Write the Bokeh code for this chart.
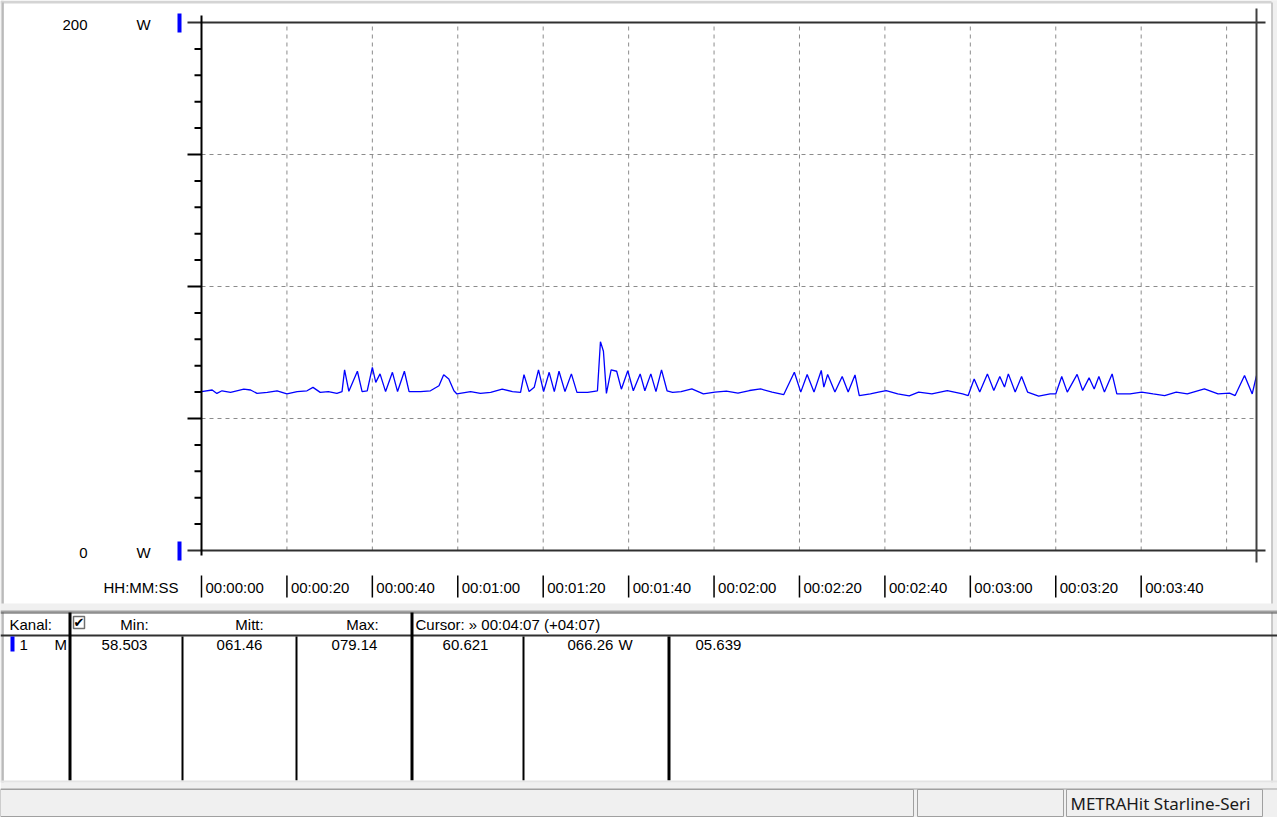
from bokeh.plotting import figure
from bokeh.models import Range1d, Label, BoxAnnotation, PolyAnnotation
from bokeh.embed import file_html
from bokeh.resources import INLINE

# ---------------- data ----------------
time_s = [0, 2.5, 3.6, 4.8, 6.8, 8.5, 9.9, 11.5, 13.0, 15.4, 17.7, 20.0, 22.4, 24.7, 26.1, 27.8, 29.7, 31.7, 32.9,
          33.5, 34.5, 36.5, 37.6, 38.8, 40.0, 40.8, 41.8, 43.1, 44.7, 45.9, 47.5, 48.6,
          51.3, 53.6, 55.6, 56.7, 57.9, 59.1, 59.8, 63.0, 65.3, 67.7, 70.4, 72.8, 74.7,
          75.5, 76.7, 77.9, 78.9, 80.1, 81.4, 82.6, 83.7, 85.1, 86.6, 87.9, 90.4, 92.7,
          93.4, 94.1, 94.8, 95.9, 97.2, 98.3, 99.8, 101.1, 102.7, 103.8, 105.2, 106.4, 107.7, 109.0, 110.3, 112.3,
          114.8, 117.5, 120.2, 122.9, 125.6, 128.3, 130.9, 133.6, 136.3,
          138.8, 140.3, 141.8, 143.4, 145.1, 145.7, 146.6, 148.3, 150.0, 151.4, 153.0, 154.0,
          156.6, 158.5, 160.3, 163.0, 165.7, 167.9, 171.0, 174.6, 178.2, 179.5,
          180.9, 182.2, 184.0, 185.5, 186.9, 188.0, 188.9, 190.5, 192.0, 193.4, 196.0, 198.7, 200.0,
          201.4, 202.7, 205.0, 206.3, 207.8, 209.0, 210.1, 211.4, 213.2, 214.3,
          217.4, 220.1, 222.8, 225.5, 228.2, 230.8, 234.8, 238.0, 240.7, 242.0, 244.2, 246.0, 247.0]
power_w = [60.2, 60.8, 59.5, 60.5, 59.9, 60.6, 61.1, 60.8, 59.5, 59.9, 60.5, 59.3, 60.2, 60.5, 61.8, 59.9, 60.2, 59.5, 60.2,
           68.4, 60.3, 67.9, 60.2, 60.5, 69.4, 63.7, 66.9, 60.2, 67.5, 60.2, 67.9, 60.2,
           60.2, 60.5, 62.4, 66.6, 65.0, 60.5, 59.3, 60.2, 59.5, 59.9, 61.1, 60.2, 59.9,
           66.6, 60.2, 61.8, 68.4, 60.2, 67.5, 60.2, 67.9, 60.2, 66.9, 59.9, 59.9, 60.5,
           79.1, 75.5, 59.5, 68.4, 67.9, 61.1, 68.1, 60.5, 66.9, 60.5, 66.9, 60.2, 68.4, 60.5, 59.9, 60.2,
           61.2, 59.3, 60.0, 60.4, 59.6, 60.6, 61.2, 60.0, 59.0,
           67.5, 60.0, 66.7, 60.0, 68.2, 61.9, 66.7, 60.0, 65.9, 60.0, 66.5, 58.7,
           59.3, 60.0, 60.6, 59.3, 58.6, 60.0, 59.3, 60.6, 59.3, 58.7,
           65.0, 60.0, 66.9, 60.6, 65.9, 61.9, 66.9, 60.0, 65.9, 60.0, 58.5, 59.3, 59.3,
           65.9, 60.0, 66.7, 60.6, 65.4, 61.2, 65.9, 60.0, 66.9, 59.3,
           59.3, 60.0, 59.3, 58.7, 60.0, 59.3, 61.2, 59.3, 59.6, 58.7, 66.3, 59.3, 66.26]
assert len(time_s) == len(power_w)

x_tick_seconds = [0, 20, 40, 60, 80, 100, 120, 140, 160, 180, 200, 220]
x_tick_labels = ["00:00:00", "00:00:20", "00:00:40", "00:01:00", "00:01:20", "00:01:40",
                 "00:02:00", "00:02:20", "00:02:40", "00:03:00", "00:03:20", "00:03:40"]
grid_x_seconds = [20, 40, 60, 80, 100, 120, 140, 160, 180, 200, 220, 240]
grid_y_watts = [50, 100, 150]
y_minor_watts = [10, 20, 30, 40, 60, 70, 80, 90, 110, 120, 130, 140, 160, 170, 180, 190]
y_major_watts = [50, 100, 150]
y_end_values = [200, 0]
y_end_labels = ["200", "0"]
unit_label = "W"
time_format_label = "HH:MM:SS"
x_end_seconds = 247
y_top_watts = 200

header_texts = ["Kanal:", "Min:", "Mitt:", "Max:", "Cursor: \u00bb 00:04:07 (+04:07)"]
row_channel = ["1", "M"]
row_values = ["58.503", "061.46", "079.14", "60.621", "066.26", "05.639"]
status_text = "METRAHit Starline-Seri"

# ---------------- layout (page pixels) ----------------
W, H = 1277, 817
FL, FR, FT, FB = 201, 1256, 22, 550          # plot area in page pixels
FONT = "Liberation Sans"
FS = "15px"
BLUE = "#0000FF"
ROW_Y = 644

kx = x_end_seconds / (FR - FL)
ky = y_top_watts / (FB - FT)
p = figure(width=W, height=H, output_backend="svg", toolbar_location=None,
           x_range=Range1d(-FL * kx, x_end_seconds + (W - FR) * kx),
           y_range=Range1d(-(H - FB) * ky, y_top_watts + FT * ky),
           x_axis_location=None, y_axis_location=None,
           min_border=0, min_border_left=0, min_border_right=0,
           min_border_top=0, min_border_bottom=0)
p.outline_line_color = None
p.background_fill_color = "white"
p.border_fill_color = "white"
p.xgrid.visible = False
p.ygrid.visible = False
p.extra_x_ranges = {"px": Range1d(0, W)}
p.extra_y_ranges = {"py": Range1d(H, 0)}


def box(l, r, t, b, fill=None, line=None, lw=1, xr="px", yr="py"):
    kw = dict(left=l, right=r, top=t, bottom=b, x_range_name=xr, y_range_name=yr,
              fill_color=fill if fill else "white", fill_alpha=1 if fill else 0,
              line_color=line if line else "white", line_alpha=1 if line else 0, line_width=lw,
              level="annotation")
    p.add_layout(BoxAnnotation(**kw))


def poly(xs, ys, fill):
    p.add_layout(PolyAnnotation(xs=xs, ys=ys, x_range_name="px", y_range_name="py",
                                fill_color=fill, fill_alpha=1, line_color=fill, line_width=0.5))


def label(x, y, text, align="left", font=FONT, size=FS, color="#000000", xr="px", yr="py", xoff=0):
    p.add_layout(Label(x=x, y=y, text=text, x_range_name=xr, y_range_name=yr, x_offset=xoff,
                       text_font=font, text_font_size=size, text_color=color,
                       text_align=align, text_baseline="middle"))


# window chrome / panel backgrounds
box(0, W, 0, 3, fill="#d4d4d4")
box(0, 3, 0, 782, fill="#d4d4d4")
box(2, 3, 2, 782, fill="#a0a0a0")
box(1271, W, 0, 782, fill="#f0f0f0")
box(1271, 1272, 2, 782, fill="#a0a0a0")
box(0, W, 603, 611, fill="#f0f0f0")
box(0, W, 782, H, fill="#f0f0f0")

# dashed grid inside the plot area (data coordinates)
p.segment(x0=grid_x_seconds, y0=[0] * len(grid_x_seconds), x1=grid_x_seconds,
          y1=[y_top_watts] * len(grid_x_seconds),
          line_color="#8c8c8c", line_dash="4 4", line_width=1)
p.segment(x0=[0] * len(grid_y_watts), y0=grid_y_watts, x1=[x_end_seconds] * len(grid_y_watts),
          y1=grid_y_watts, line_color="#8c8c8c", line_dash="4 4", line_width=1)

# data line
p.line(time_s, power_w, line_color=BLUE, line_width=1.3)

# frame lines
box(187, 1265, 21, 23, fill="#303030")          # top
box(187, 1265, 549, 551, fill="#303030")        # bottom axis
box(200, 202, 15, 555, fill="#000000")          # left axis
box(1255, 1257, 8, 562, fill="#404040")         # cursor line
poly([1250, 1256, 1262, 1262, 1256, 1250], [8, 14, 8, 10, 16, 10], "#404040")
poly([1250, 1256, 1262, 1262, 1256, 1250], [566, 560, 566, 564, 558, 564], "#404040")

# y ticks
for wv in y_minor_watts:
    box(194, 201, wv, wv, line="#000000", lw=2, yr="default")
for wv in y_major_watts:
    box(187, 201, wv, wv, line="#000000", lw=2, yr="default")

# y end labels
for wv, txt in zip(y_end_values, y_end_labels):
    yy = FB - (FB - FT) * wv / y_top_watts
    label(87, yy + 2, txt, align="right")
    label(143, yy + 2, unit_label, align="center")
    box(177, 181, yy - 9, yy + 10, fill=BLUE)

# x tick labels
label(103, 587, time_format_label)
for s, txt in zip(x_tick_seconds, x_tick_labels):
    box(s, s, 575, 597, line="#000000", lw=1.5, xr="default")
    label(s, 587, txt, xr="default", xoff=4)

# separator between chart and table
box(0, W, 610, 612, fill="#a0a0a0")
box(0, W, 612, 613, fill="#505050")
box(0, W, 634, 636, fill="#303030")

# table columns
for xl, xr_, t in [(68, 71, 612), (410, 413, 612), (667, 670, 636)]:
    box(xl, xr_, t, 780, fill="#000000")
for xl in [181, 295, 522]:
    box(xl, xl + 2, 636, 780, fill="#000000")
box(0, W, 780, 782, fill="#e4e4e4")

# header row
label(9, 624, header_texts[0])
box(73, 84, 616, 628, fill="white", line="#707070", lw=1.5)
label(78.5, 622, "\u2714", align="center", font="DejaVu Sans", size="13px")
label(134, 624, header_texts[1], align="center")
label(249, 624, header_texts[2], align="center")
label(362, 624, header_texts[3], align="center")
label(415, 624, header_texts[4])

# data row
box(10, 14, ROW_Y - 8, ROW_Y + 7, fill=BLUE)
label(19, ROW_Y, row_channel[0])
label(54, ROW_Y, row_channel[1])
for xc, txt in zip([124, 239, 354, 465], row_values[:4]):
    label(xc, ROW_Y, txt, align="center")
label(567, ROW_Y, row_values[4])
label(618, ROW_Y, unit_label)
label(695, ROW_Y, row_values[5])

# status bar
box(0, W, 788, 789, fill="#a0a0a0")
for xl, xr_ in [(0, 913), (917, 1063), (1066, 1262)]:
    box(xl, xr_, 789, 816, line="#a0a0a0", lw=1)
label(1070, 803, status_text, font="Noto Sans", size="17px", color="#1a1a1a")
for d in [0, 4, 8]:
    poly([1264 + d, 1276, 1276, 1265.5 + d], [816, 804 + d, 805.5 + d, 816], "#a0a0a0")

open("out.html", "w").write(file_html(p, INLINE))
